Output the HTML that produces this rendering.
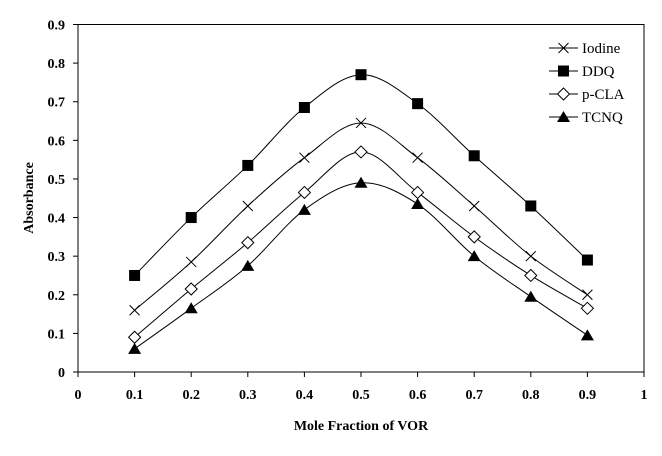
<!DOCTYPE html>
<html><head><meta charset="utf-8"><style>
body{margin:0;background:#fff}
svg{display:block;font-family:"Liberation Serif",serif}
</style></head><body>
<svg id="chart" width="662" height="456" viewBox="0 0 662 456"></svg>
<script>
const xValues=[0.1,0.2,0.3,0.4,0.5,0.6,0.7,0.8,0.9];
const iodine=[0.16,0.285,0.43,0.555,0.645,0.555,0.43,0.30,0.20];
const ddq=[0.25,0.40,0.535,0.685,0.77,0.695,0.56,0.43,0.29];
const pcla=[0.09,0.215,0.335,0.465,0.57,0.465,0.35,0.25,0.165];
const tcnq=[0.06,0.165,0.275,0.42,0.49,0.435,0.30,0.195,0.095];
const xTicks=[0,0.1,0.2,0.3,0.4,0.5,0.6,0.7,0.8,0.9,1];
const yTicks=[0,0.1,0.2,0.3,0.4,0.5,0.6,0.7,0.8,0.9];
const seriesNames=["Iodine","DDQ","p-CLA","TCNQ"];

const L=78,R=644,T=24.5,B=372;
const sx=v=>L+(R-L)*v;
const sy=v=>B-(B-T)*v/0.9;
const svg=document.getElementById('chart');
const NS='http://www.w3.org/2000/svg';
function mk(tag,attrs,parent){const e=document.createElementNS(NS,tag);for(const k in attrs)e.setAttribute(k,attrs[k]);(parent||svg).appendChild(e);return e;}

let e=mk('rect',{x:L,y:T,width:R-L,height:B-T,fill:'none',stroke:'#000','stroke-width':1});



xTicks.forEach(v=>{
  const x=sx(v);
  mk('line',{x1:x,y1:B,x2:x,y2:B+5,stroke:'#000'});
  const t=mk('text',{x:x,y:B+27,'text-anchor':'middle','font-size':14,'font-weight':'bold'});
  t.textContent=String(v);
  
  
});
yTicks.forEach(v=>{
  const y=sy(v);
  mk('line',{x1:L-5,y1:y,x2:L,y2:y,stroke:'#000'});
  const t=mk('text',{x:L-13,y:y+5,'text-anchor':'end','font-size':14,'font-weight':'bold'});
  t.textContent=String(v);
  
  
});
let xt=mk('text',{x:361,y:430,'text-anchor':'middle','font-size':14,'font-weight':'bold'});
xt.textContent='Mole Fraction of VOR';


let yt=mk('text',{x:0,y:0,'text-anchor':'middle','font-size':14,'font-weight':'bold',transform:'translate(33,198) rotate(-90)'});
yt.textContent='Absorbance';



function smoothPath(pts){
  let d=`M${pts[0][0]},${pts[0][1]}`;
  for(let i=0;i<pts.length-1;i++){
    const p0=pts[Math.max(i-1,0)],p1=pts[i],p2=pts[i+1],p3=pts[Math.min(i+2,pts.length-1)];
    const c1=[p1[0]+(p2[0]-p0[0])/6,p1[1]+(p2[1]-p0[1])/6];
    const c2=[p2[0]-(p3[0]-p1[0])/6,p2[1]-(p3[1]-p1[1])/6];
    d+=` C${c1[0]},${c1[1]} ${c2[0]},${c2[1]} ${p2[0]},${p2[1]}`;
  }
  return d;
}
function marker(type,x,y,g){
  if(type==='x'){mk('path',{d:`M${x-5},${y-5}L${x+5},${y+5}M${x-5},${y+5}L${x+5},${y-5}`,stroke:'#000','stroke-width':1},g);}
  else if(type==='sq'){mk('rect',{x:x-5.5,y:y-5.5,width:11,height:11,fill:'#000'},g);}
  else if(type==='di'){mk('path',{d:`M${x},${y-6}L${x+6},${y}L${x},${y+6}L${x-6},${y}Z`,fill:'#fff',stroke:'#000'},g);}
  else {mk('path',{d:`M${x},${y-6}L${x+6.5},${y+5}L${x-6.5},${y+5}Z`,fill:'#000'},g);}
}
const data=[iodine,ddq,pcla,tcnq];
const types=['x','sq','di','tri'];
const slugs=['iodine','ddq','p-cla','tcnq'];
data.forEach((vals,si)=>{
  const g=mk('g',{});
  
  
  const pts=xValues.map((v,i)=>[sx(v),sy(vals[i])]);
  mk('path',{d:smoothPath(pts),fill:'none',stroke:'#000','stroke-width':1},g);
  pts.forEach(p=>marker(types[si],p[0],p[1],g));
});
seriesNames.forEach((n,i)=>{
  const y=48+i*23;
  const g=mk('g',{});
  
  
  mk('line',{x1:549,y1:y,x2:578,y2:y,stroke:'#000'},g);
  marker(types[i],563.5,y,g);
  const t=mk('text',{x:582,y:y+5,'font-size':15},g);
  t.textContent=n;
});
</script>
</body></html>
